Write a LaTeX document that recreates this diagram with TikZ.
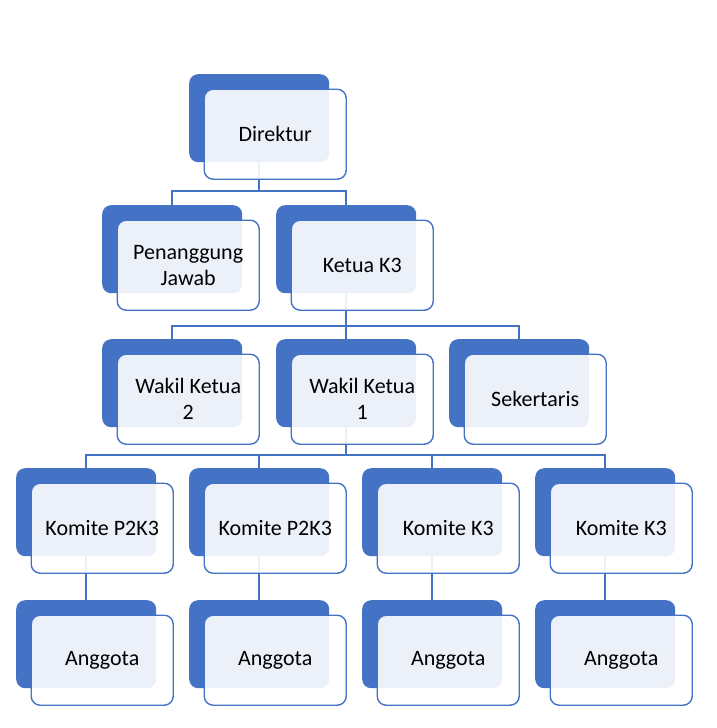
\documentclass[tikz,border=0pt]{standalone}
\usepackage{fontspec}
\setmainfont{Carlito}
\usetikzlibrary{calc}
\pgfdeclarelayer{bg}
\pgfsetlayers{bg,main}
\definecolor{orgblue}{HTML}{4472C4}
\tikzset{
  backbox/.style={draw=none, fill=orgblue, rounded corners=9pt, minimum width=140pt, minimum height=88pt, inner sep=0pt, anchor=north west},
  frontbox/.style={draw=orgblue, line width=1.4pt, fill=white, fill opacity=0.9, text opacity=1, rounded corners=9pt, minimum width=142pt, minimum height=90pt, inner sep=0pt, anchor=north west, align=center, font=\fontsize{22}{26}\selectfont, text=black},
  conn/.style={draw=orgblue, line width=1.5pt}
}
\newcommand{\orgunit}[4]{%
  \node[backbox] (#1-b) at (#2,#3) {};
  \node[frontbox] (#1) at ($(#1-b.north west)+(14.5,14.5)$) {#4};
}
\begin{document}
\begin{tikzpicture}[x=1pt,y=-1pt]
\useasboundingbox (0,0) rectangle (717,728);
% row 1
\orgunit{dir}{189}{74}{Direktur}
% row 2
\orgunit{pj}{102}{205}{Penanggung\\Jawab}
\orgunit{ket}{276}{205}{Ketua K3}
% row 3
\orgunit{wk2}{102}{339}{Wakil Ketua\\2}
\orgunit{wk1}{276}{339}{Wakil Ketua\\1}
\orgunit{sek}{449}{339}{Sekertaris}
% row 4
\orgunit{ka}{16}{468}{Komite P2K3}
\orgunit{kb}{189}{468}{Komite P2K3}
\orgunit{kc}{362}{468}{Komite K3}
\orgunit{kd}{535}{468}{Komite K3}
% row 5
\orgunit{aa}{16}{600}{Anggota}
\orgunit{ab}{189}{600}{Anggota}
\orgunit{ac}{362}{600}{Anggota}
\orgunit{ad}{535}{600}{Anggota}
\coordinate (busA) at (0,191);
\coordinate (busB) at (0,326);
\coordinate (busC) at (0,455);
\begin{pgfonlayer}{bg}
  % Direktur to row 2
  \draw[conn] (dir-b.south) -- (dir-b.south |- busA);
  \draw[conn] (pj-b.north) |- (busA -| ket-b.north) -- (ket-b.north);
  % Ketua to row 3
  \draw[conn] (ket-b.south) -- (ket-b.south |- busB);
  \draw[conn] (wk2-b.north) |- (busB -| sek-b.north) -- (sek-b.north);
  \draw[conn] (wk1-b.north) -- (wk1-b.north |- busB);
  % Wakil Ketua 1 to row 4
  \draw[conn] (wk1-b.south) -- (wk1-b.south |- busC);
  \draw[conn] (ka-b.north) |- (busC -| kd-b.north) -- (kd-b.north);
  \draw[conn] (kb-b.north) -- (kb-b.north |- busC);
  \draw[conn] (kc-b.north) -- (kc-b.north |- busC);
  % row 4 to row 5
  \draw[conn] (ka-b.south) -- (aa-b.north);
  \draw[conn] (kb-b.south) -- (ab-b.north);
  \draw[conn] (kc-b.south) -- (ac-b.north);
  \draw[conn] (kd-b.south) -- (ad-b.north);
\end{pgfonlayer}
\end{tikzpicture}
\end{document}
